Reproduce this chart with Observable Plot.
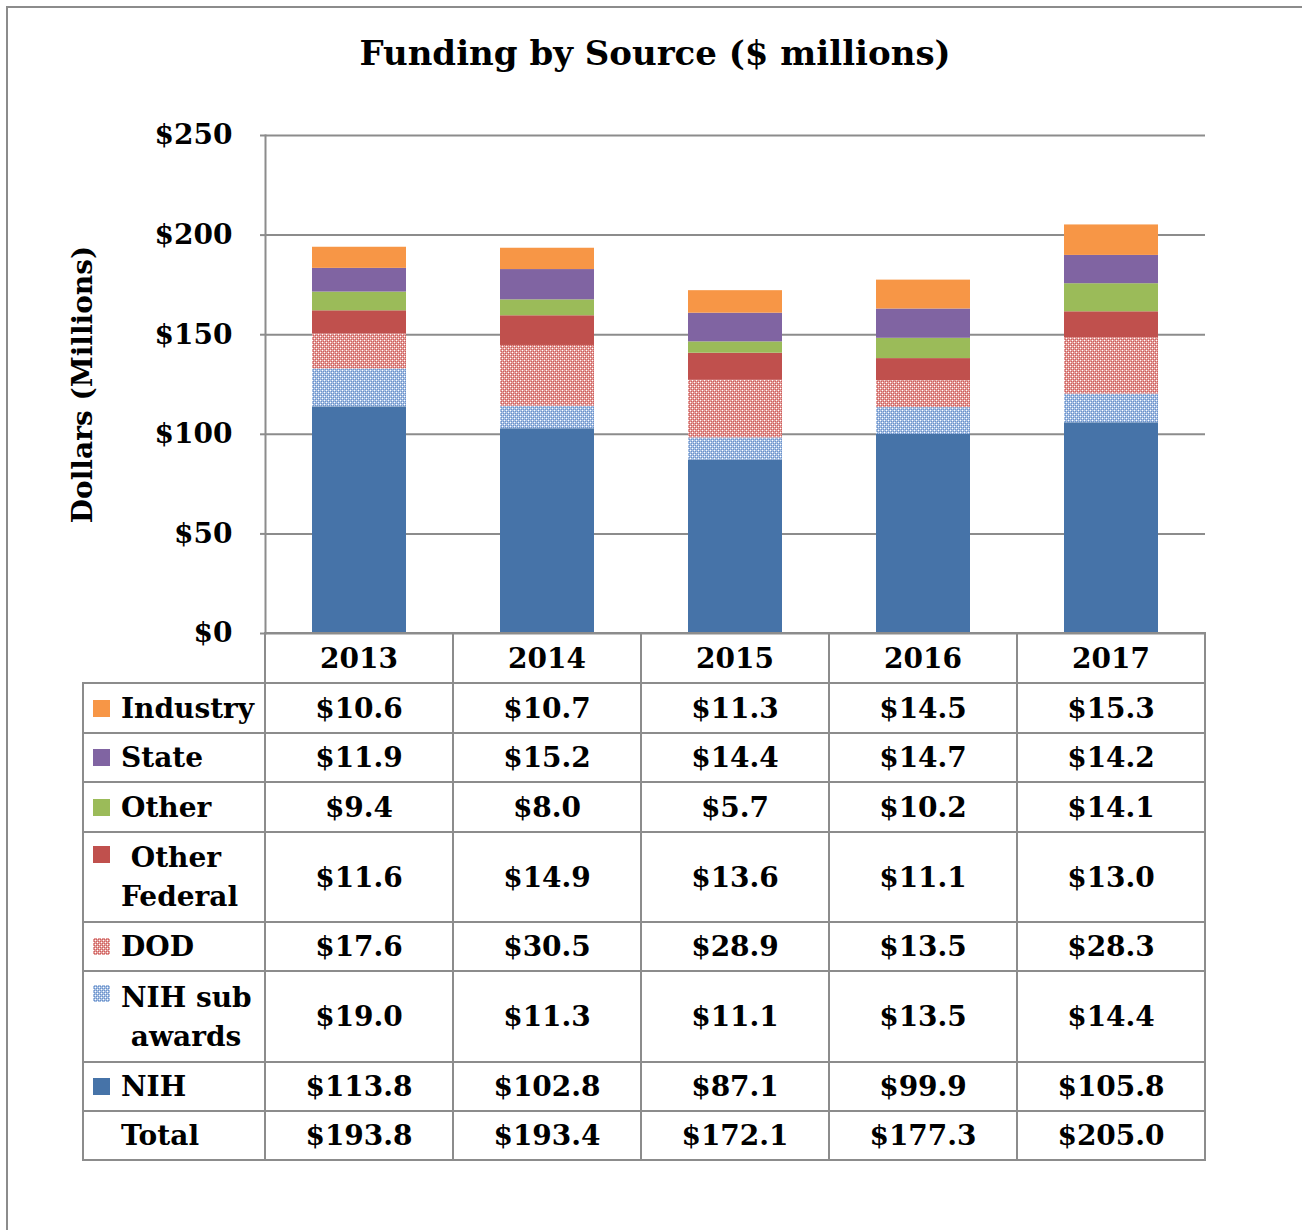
<!DOCTYPE html>
<html>
<head>
<meta charset="utf-8">
<script src="https://cdn.jsdelivr.net/npm/d3@7"></script>
<script src="https://cdn.jsdelivr.net/npm/@observablehq/plot@0.6"></script>
<style>
  html, body { margin: 0; padding: 0; background: #fff; overflow: hidden; width: 1302px; height: 1230px; }
  body { position: relative; font-family: "DejaVu Serif", serif; font-weight: bold; color: #000; }
  #frame { position: absolute; left: 6px; top: 6px; width: 1400px; height: 1400px; border-left: 2px solid #8c8c8c; border-top: 2px solid #8c8c8c; }
  #title { position: absolute; left: 0; width: 1310px; top: 31px; text-align: center; font-size: 34px; line-height: 44px; }
  #chart { position: absolute; left: 0; top: 0; }
  .cell { position: absolute; box-sizing: border-box; border: 2px solid #8c8c8c; font-size: 28px; display: flex; align-items: center; justify-content: center; line-height: 39px; background: transparent; }
  .lab { justify-content: flex-start; align-items: center; padding-left: 9px; }
  .sw { display: inline-block; width: 17px; height: 17px; margin-right: 11px; flex: none; }
  .labtext { white-space: pre; }
</style>
</head>
<body>
<div id="frame"></div>
<div id="chart"></div>
<div id="title">Funding by Source ($ millions)</div>
<div id="table"></div>
<script>
// ---- data ----
const years = ["2013", "2014", "2015", "2016", "2017"];
const seriesNames = ["NIH", "NIH sub awards", "DOD", "Other Federal", "Other", "State", "Industry"];
const nih = [113.8, 102.8, 87.1, 99.9, 105.8];
const nihSub = [19.0, 11.3, 11.1, 13.5, 14.4];
const dod = [17.6, 30.5, 28.9, 13.5, 28.3];
const otherFederal = [11.6, 14.9, 13.6, 11.1, 13.0];
const other = [9.4, 8.0, 5.7, 10.2, 14.1];
const state = [11.9, 15.2, 14.4, 14.7, 14.2];
const industry = [10.6, 10.7, 11.3, 14.5, 15.3];
const totals = [193.8, 193.4, 172.1, 177.3, 205.0];
const yTicks = [0, 50, 100, 150, 200, 250];

const seriesValues = [nih, nihSub, dod, otherFederal, other, state, industry];
const fills = {
  "NIH": "#4673A8",
  "NIH sub awards": "url(#patBlue)",
  "DOD": "url(#patRed)",
  "Other Federal": "#C0504D",
  "Other": "#9BBB59",
  "State": "#8064A2",
  "Industry": "#F79646"
};

const rows = [];
seriesNames.forEach((s, i) => years.forEach((y, j) => rows.push({year: y, series: s, value: seriesValues[i][j]})));

const chart = Plot.plot({
  width: 1302,
  height: 640,
  marginLeft: 265,
  marginRight: 97,
  marginTop: 135,
  marginBottom: 7,
  x: {domain: years, paddingInner: 0.5, paddingOuter: 0.25, axis: null},
  y: {domain: [0, 250]},
  color: {type: "identity"},
  style: {fontFamily: "DejaVu Serif", fontWeight: "bold", fontSize: "28px", color: "#000", background: "transparent", overflow: "visible"},
  marks: [
    Plot.ruleY(yTicks, {stroke: "#8c8c8c", strokeWidth: 2}),
    Plot.barY(rows, {x: "year", y: "value", z: "series", fill: d => fills[d.series], order: seriesNames}),
    Plot.frame({anchor: "left", stroke: "#8c8c8c", strokeWidth: 2}),
    Plot.axisY(yTicks, {
      tickSize: 5, tickPadding: 28, stroke: "#8c8c8c", strokeWidth: 2,
      tickFormat: d => "$" + d, fontSize: 28,
      label: "Dollars (Millions)", labelAnchor: "center", labelOffset: 193, labelArrow: false
    })
  ]
});

// patterns
const ns = "http://www.w3.org/2000/svg";
const defs = document.createElementNS(ns, "defs");
function makePattern(id, base, dark) {
  const p = document.createElementNS(ns, "pattern");
  p.setAttribute("id", id);
  p.setAttribute("patternUnits", "userSpaceOnUse");
  p.setAttribute("width", 4);
  p.setAttribute("height", 4);
  const add = (x, y, w, h, f) => {
    const r = document.createElementNS(ns, "rect");
    r.setAttribute("x", x); r.setAttribute("y", y);
    r.setAttribute("width", w); r.setAttribute("height", h);
    r.setAttribute("fill", f);
    p.appendChild(r);
  };
  add(0, 0, 4, 4, base);
  add(0, 0, 1, 1, "#ffffff");
  add(2, 2, 1, 1, "#ffffff");
  add(1, 1, 1, 1, dark);
  add(3, 3, 1, 1, dark);
  add(1, 3, 1, 1, dark);
  add(3, 1, 1, 1, dark);
  defs.appendChild(p);
}
makePattern("patRed", "#E49C9A", "#CC605D");
makePattern("patBlue", "#A5BFE3", "#6C91C9");
chart.insertBefore(defs, chart.firstChild);
document.getElementById("chart").appendChild(chart);

// ---- table ----
const table = document.getElementById("table");
const colX = [83, 265, 453, 641, 829, 1017, 1205];
const fmt = v => "$" + v.toFixed(1);
function cell(x0, x1, y0, y1, html, cls) {
  const d = document.createElement("div");
  d.className = "cell" + (cls ? " " + cls : "");
  d.style.left = (x0 - 1) + "px";
  d.style.top = (y0 - 1) + "px";
  d.style.width = (x1 - x0 + 2) + "px";
  d.style.height = (y1 - y0 + 2) + "px";
  d.innerHTML = html;
  table.appendChild(d);
  return d;
}
// header row
years.forEach((y, j) => cell(colX[j + 1], colX[j + 2], 633, 683, y));
// body rows (top to bottom)
const tableRows = [
  {label: "Industry", sw: fills["Industry"], vals: industry, y0: 683, y1: 733},
  {label: "State", sw: fills["State"], vals: state, y0: 733, y1: 782},
  {label: "Other", sw: fills["Other"], vals: other, y0: 782, y1: 832},
  {label: " Other\nFederal", sw: fills["Other Federal"], vals: otherFederal, y0: 832, y1: 922},
  {label: "DOD", sw: "pat-red", vals: dod, y0: 922, y1: 971},
  {label: "NIH sub\n awards", sw: "pat-blue", vals: nihSub, y0: 971, y1: 1062},
  {label: "NIH", sw: fills["NIH"], vals: nih, y0: 1062, y1: 1111},
  {label: "Total", sw: null, vals: totals, y0: 1111, y1: 1160}
];
function swatchHTML(sw, twoLine) {
  if (!sw) return '<span class="sw" style="background:transparent"></span>';
  const style = twoLine ? "align-self:flex-start;margin-top:13px;" : "";
  if (sw === "pat-red" || sw === "pat-blue") {
    const id = sw === "pat-red" ? "patRed" : "patBlue";
    return `<svg class="sw" style="${style}" width="17" height="17"><rect width="17" height="17" fill="url(#${id})"/></svg>`;
  }
  return `<span class="sw" style="${style}background:${sw}"></span>`;
}
tableRows.forEach(r => {
  const twoLine = r.label.includes("\n");
  cell(colX[0], colX[1], r.y0, r.y1,
    swatchHTML(r.sw, twoLine) + `<span class="labtext">${r.label}</span>`, "lab");
  r.vals.forEach((v, j) => cell(colX[j + 1], colX[j + 2], r.y0, r.y1, fmt(v)));
});
</script>
</body>
</html>
